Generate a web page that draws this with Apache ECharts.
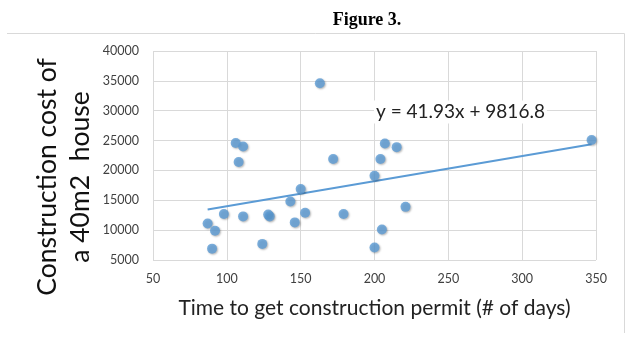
<!DOCTYPE html>
<html><head><meta charset="utf-8">
<script src="https://cdn.jsdelivr.net/npm/echarts@6/dist/echarts.min.js"></script>
<style>html,body{margin:0;padding:0;background:#fff}#c{width:639px;height:359px}</style>
</head><body><div id="c"></div>
<script>
const days = [87, 92, 90, 98, 106, 111, 108, 111, 124, 128, 129, 143, 146, 150, 153, 163, 172, 179, 200, 204, 207, 215, 221, 205, 200, 347];
const costs = [11100, 9900, 6900, 12700, 24600, 24000, 21400, 12300, 7700, 12600, 12300, 14800, 11300, 16900, 12900, 34600, 21900, 12700, 19100, 21900, 24500, 23900, 13900, 10100, 7100, 25100];
const slope = 41.93;
const intercept = 9816.8;
const xTicks = [50, 100, 150, 200, 250, 300, 350];
const yTicks = [5000, 10000, 15000, 20000, 25000, 30000, 35000, 40000];

const pts = days.map((d, i) => [d, costs[i]]);
const xmin = Math.min(...days), xmax = Math.max(...days);
const trend = [[xmin, slope * xmin + intercept], [xmax, slope * xmax + intercept]];
const blue = '#5B9BD5';
const chart = echarts.init(document.getElementById('c'));
chart.setOption({
  animation: false,
  grid: {left: 153, right: 43, top: 51, bottom: 99},
  xAxis: {
    type: 'value', min: xTicks[0], max: xTicks[xTicks.length - 1], interval: 50,
    axisLine: {show: false}, axisTick: {show: false},
    splitLine: {lineStyle: {color: '#d9d9d9'}},
    axisLabel: {color: '#404040', fontFamily: 'Lato', fontSize: 12.5, margin: 12, formatter: v => String(v)},
    name: 'Time to get construction permit (# of days)', nameLocation: 'middle', nameGap: 38,
    nameTextStyle: {color: '#222', fontFamily: 'Lato', fontSize: 21}
  },
  yAxis: {
    type: 'value', min: yTicks[0], max: yTicks[yTicks.length - 1], interval: 5000,
    axisLine: {show: false}, axisTick: {show: false},
    splitLine: {lineStyle: {color: '#d9d9d9'}},
    axisLabel: {color: '#404040', fontFamily: 'Lato', fontSize: 12.5, margin: 14, formatter: v => String(v)}
  },
  graphic: [
    {type: 'polyline', shape: {points: [[7, 33.5], [624.5, 33.5], [624.5, 333]]}, style: {fill: 'none', stroke: '#d9d9d9', lineWidth: 1}, z: -1},
    {type: 'text', x: 367, y: 11, style: {text: 'Figure 3.', font: 'bold 18px "Liberation Serif"', fill: '#000', align: 'center', verticalAlign: 'top'}},
    {type: 'text', x: 34, y: 177, rotation: Math.PI / 2, style: {text: 'Construction cost of', font: '26.5px Lato', fill: '#111', align: 'center', verticalAlign: 'top'}},
    {type: 'text', x: 67, y: 177, rotation: Math.PI / 2, style: {text: 'a 40m2  house', font: '26.5px Lato', fill: '#111', align: 'center', verticalAlign: 'top'}},
    {type: 'text', x: 374, y: 112, z: 10, style: {text: 'y = 41.93x + 9816.8', font: '19px Lato', fill: '#222', verticalAlign: 'middle', backgroundColor: '#fff', padding: [2, 2]}}
  ],
  series: [
    {type: 'line', data: trend, showSymbol: false, lineStyle: {color: blue, width: 2}, z: 1},
    {type: 'scatter', data: pts, symbolSize: 10, itemStyle: {color: blue, shadowColor: 'rgba(0,0,0,0.35)', shadowBlur: 2, shadowOffsetX: 1, shadowOffsetY: 1}, z: 2}
  ]
});
</script></body></html>
